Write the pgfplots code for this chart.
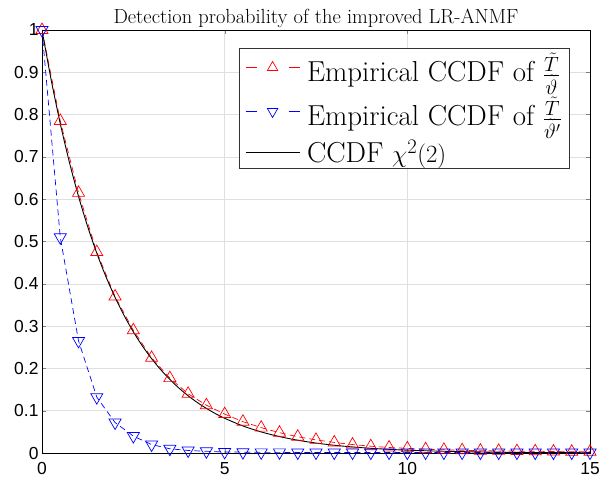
\documentclass[border=0pt]{standalone}
\usepackage{fontspec}
\usepackage{pgfplots}
\pgfplotsset{compat=1.18}
\newfontfamily\ticksfont{Liberation Sans}
\begin{document}
\begin{tikzpicture}
\begin{axis}[
  scale only axis, width=548bp, height=423bp,
  at={(0,0)}, anchor=origin,
  xmin=0, xmax=15, ymin=0, ymax=1,
  xtick={0,5,10,15}, ytick={0,0.1,...,1.0},
  yticklabel style={/pgf/number format/fixed,/pgf/number format/precision=1},
  xticklabel style={yshift=-6bp},
  tick align=inside, axis line style={line width=0.6pt},
  grid=major, major grid style={gray!25, line width=0.5pt},
  tick label style={font=\ticksfont\fontsize{17.5}{20}\selectfont},
  /pgf/number format/assume math mode=true,
  title={\fontsize{20.5}{22}\selectfont Detection probability of the improved LR-ANMF},
  title style={yshift=-7bp},
  legend style={at={(0.9635,0.957)}, anchor=north east, font=\fontsize{29}{32}\selectfont, draw=black!80, line width=0.6pt, row sep=10bp, inner xsep=6bp, inner ysep=2bp},
  legend cell align=left,
]
\addplot[red, dash pattern=on 6bp off 4bp, line width=0.7pt, mark=triangle, mark size=7bp, mark options={solid},
  legend image code/.code={\draw[solid,red,line width=0.8pt] (0bp,0bp)--(11bp,0bp) (43bp,0bp)--(54bp,0bp); \draw[red,mark size=6bp] plot coordinates {(27bp,0bp)};}] coordinates {
(0,1) (0.5,0.785) (1,0.615) (1.5,0.475) (2,0.37) (2.5,0.29) (3,0.225) (3.5,0.177) (4,0.14) (4.5,0.113) (5,0.092) (5.5,0.074) (6,0.06) (6.5,0.048) (7,0.0385) (7.5,0.031) (8,0.025) (8.5,0.02) (9,0.016) (9.5,0.013) (10,0.011) (10.5,0.009) (11,0.0075) (11.5,0.0065) (12,0.0055) (12.5,0.005) (13,0.0045) (13.5,0.004) (14,0.0035) (14.5,0.003) (15,0.003)};
\addlegendentry{\hspace{5bp}Empirical CCDF of $\frac{\tilde{T}}{\tilde{\vartheta}}$}
\addplot[blue, dash pattern=on 6bp off 4bp, line width=0.7pt, mark=triangle, mark size=7bp, mark options={solid, rotate=180},
  legend image code/.code={\draw[solid,blue,line width=0.8pt] (0bp,0bp)--(11bp,0bp) (43bp,0bp)--(54bp,0bp); \draw[blue,mark size=6bp] plot coordinates {(27bp,0bp)};}] coordinates {
(0,1) (0.5,0.51) (1,0.265) (1.5,0.132) (2,0.072) (2.5,0.04) (3,0.02) (3.5,0.01) (4,0.006) (4.5,0.004) (5,0.0025) (5.5,0.002) (6,0.0015) (6.5,0.0015) (7,0.0012) (7.5,0.001) (8,0.001) (8.5,0.001) (9,0.001) (9.5,0.001) (10,0.001) (10.5,0.001) (11,0.001) (11.5,0.001) (12,0.001) (12.5,0.001) (13,0.001) (13.5,0.001) (14,0.001) (14.5,0.001) (15,0.001)};
\addlegendentry{\hspace{5bp}Empirical CCDF of $\frac{\tilde{T}}{\tilde{\vartheta}'}$}
\addplot[black, line width=0.9pt, mark=none, smooth,
  legend image code/.code={\draw[black] (0bp,0bp)--(54bp,0bp);}] coordinates {
(0,1) (0.25,0.8825) (0.5,0.7788) (0.75,0.6873) (1,0.6065) (1.25,0.5353) (1.5,0.4724) (1.75,0.4169) (2,0.3679) (2.25,0.3247) (2.5,0.2865) (2.75,0.2528) (3,0.2231) (3.25,0.1969) (3.5,0.1738) (3.75,0.1534) (4,0.1353) (4.25,0.1194) (4.5,0.1054) (4.75,0.0930) (5,0.0821) (5.5,0.0639) (6,0.0498) (6.5,0.0388) (7,0.0302) (7.5,0.0235) (8,0.0183) (8.5,0.0143) (9,0.0111) (9.5,0.0087) (10,0.0067) (11,0.0041) (12,0.0025) (13,0.0015) (14,0.0009) (15,0.0006)};
\addlegendentry{\hspace{5bp}CCDF $\chi^2(2)$}
\end{axis}
\path (-42bp,-34bp) rectangle (567bp,453bp);
\end{tikzpicture}
\end{document}
